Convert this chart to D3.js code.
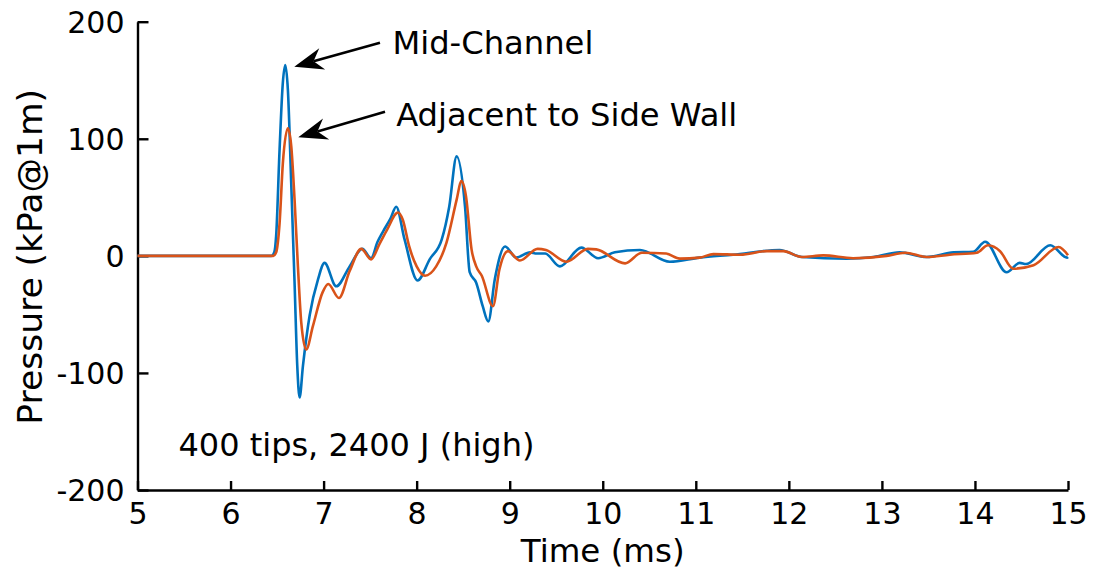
<!DOCTYPE html>
<html>
<head>
<meta charset="utf-8">
<script src="https://cdn.jsdelivr.net/npm/d3@7/dist/d3.min.js"></script>
<style>
  html, body { margin: 0; padding: 0; background: #fff; }
  svg text { font-family: "DejaVu Sans", sans-serif; fill: #000; }
</style>
</head>
<body>
<svg id="chart" width="1094" height="578"></svg>
<script>
// Mid-channel pressure trace: time (ms) and pressure (kPa@1m)
const midTime = [5.0, 5.5, 6.0, 6.44, 6.47, 6.49, 6.527, 6.562, 6.588, 6.616, 6.652, 6.688, 6.717, 6.742, 6.778, 6.85, 6.94, 7.01, 7.136, 7.28, 7.416, 7.51, 7.58, 7.64, 7.72, 7.78, 7.87, 8.01, 8.14, 8.27, 8.35, 8.43, 8.52, 8.57, 8.64, 8.71, 8.77, 8.84, 8.95, 9.07, 9.22, 9.29, 9.38, 9.54, 9.77, 9.95, 10.13, 10.40, 10.72, 11.04, 11.40, 11.90, 12.14, 12.62, 12.91, 13.19, 13.48, 13.77, 13.98, 14.11, 14.34, 14.48, 14.55, 14.81, 14.99, 15.0];
const midValue = [0, 0, 0, 0, 3, 17, 91, 148, 163, 142, 62, -23, -94, -121, -94, -51, -20, -6, -26, -9, 6, -2, 12, 21, 32, 42, 14, -21, -3, 14, 42, 85, 42, -14, -23, -43, -56, -20, 8, -1.5, 3, 2, 2, -9, 7, -2, 3, 5, -5, -1.5, 1, 5, -1, -2.5, -1, 3, -1, 3, 3.4, 12, -14, -6, -7, 9, -1.5, -1];

// Trace adjacent to the side wall
const wallTime = [5.0, 5.5, 6.0, 6.46, 6.49, 6.527, 6.562, 6.616, 6.652, 6.688, 6.724, 6.76, 6.813, 6.885, 6.99, 7.05, 7.165, 7.28, 7.405, 7.51, 7.60, 7.68, 7.80, 7.85, 7.92, 8.0, 8.09, 8.21, 8.32, 8.43, 8.48, 8.53, 8.59, 8.64, 8.70, 8.82, 8.89, 8.98, 9.11, 9.30, 9.39, 9.61, 9.84, 9.93, 10.24, 10.42, 10.68, 10.83, 11.04, 11.19, 11.48, 11.76, 11.94, 12.14, 12.37, 12.69, 13.05, 13.25, 13.48, 13.73, 14.02, 14.14, 14.27, 14.41, 14.63, 14.90, 15.0];
const wallValue = [0, 0, 0, 0, 3, 28, 79, 109, 94, 48, -9, -57, -80, -60, -31, -24, -36, -13, 6, -3, 10, 22, 37, 31, 8, -9, -17, -9, 11, 48, 64, 51, 5.5, -9, -17, -43, -11.5, 4, -4, 6, 5, -5, 6, 5.5, -6.4, 2.7, 2, -2.4, -1.5, 1.5, 1, 4, 4, -1, 0.4, -2, 0, 2.7, -1, 1, 2.7, 9, 4, -11, -8, 7.5, 0.5];

const xTicks = [5, 6, 7, 8, 9, 10, 11, 12, 13, 14, 15];
const yTicks = [-200, -100, 0, 100, 200];

const seriesNames = ["Mid-Channel", "Adjacent to Side Wall"];
const seriesColors = ["#0072BD", "#D95319"];
const caption = "400 tips, 2400 J (high)";

const svg = d3.select("#chart");
const margin = { left: 137.5, right: 26, top: 21.7, bottom: 88 };
const W = 1094, H = 578;

const x = d3.scaleLinear().domain([5, 15]).range([margin.left, W - margin.right]);
const y = d3.scaleLinear().domain([-200, 200]).range([H - margin.bottom, margin.top]);

// Plain hyphen for negative tick labels
const fmt = d => String(d);

// Axes: ticks point inward, MATLAB-like
const xAxis = d3.axisBottom(x).tickValues(xTicks).tickSizeInner(-9).tickSizeOuter(0).tickFormat(fmt);
const yAxis = d3.axisLeft(y).tickValues(yTicks).tickSizeInner(-11).tickSizeOuter(0).tickFormat(fmt);

const gx = svg.append("g").attr("transform", `translate(0,${y(-200)})`).call(xAxis);
const gy = svg.append("g").attr("transform", `translate(${x(5)},0)`).call(yAxis);
[gx, gy].forEach(g => {
  g.select(".domain").attr("stroke", "#000").attr("stroke-width", 2.4);
  g.selectAll(".tick line").attr("stroke", "#000").attr("stroke-width", 2.4);
  g.selectAll(".tick text").attr("font-size", 30).attr("font-family", "DejaVu Sans").attr("fill", "#000");
});
gx.selectAll(".tick text").attr("dy", "0.71em").attr("y", 13);
gy.selectAll(".tick text").attr("x", -13).attr("dy", "0.36em");

// Axis titles
svg.append("text").attr("x", x(10)).attr("y", 562).attr("text-anchor", "middle")
  .attr("font-size", 32.5).text("Time (ms)");
svg.append("text").attr("transform", `translate(41.5,${y(0) + 1}) rotate(-90)`).attr("text-anchor", "middle")
  .attr("font-size", 34.5).text("Pressure (kPa@1m)");

// Traces
const line = d3.line().x(d => x(d[0])).y(d => y(d[1])).curve(d3.curveMonotoneX);
const traces = [d3.zip(midTime, midValue), d3.zip(wallTime, wallValue)];
traces.forEach((pts, i) => {
  svg.append("path").datum(pts).attr("d", line)
    .attr("fill", "none").attr("stroke", seriesColors[i]).attr("stroke-width", 2.6)
    .attr("stroke-linejoin", "round");
});

// Annotations with arrows pointing at the peaks
const notes = [
  { text: seriesNames[0], tail: [7.606, 182.1], tip: [6.685, 161.6], tx: 7.74, ty: 172.5 },
  { text: seriesNames[1], tail: [7.66, 123.1], tip: [6.728, 101.3], tx: 7.78, ty: 111 }
];
function arrowHead(tipX, tipY, tailX, tailY) {
  const L = 29, hw = 11, notch = 20;
  const dx = tailX - tipX, dy = tailY - tipY, len = Math.hypot(dx, dy);
  const ux = dx / len, uy = dy / len, px = -uy, py = ux;
  const p = (a, b) => [tipX + ux * a + px * b, tipY + uy * a + py * b];
  return [[tipX, tipY], p(L, hw), p(notch, 0), p(L, -hw)];
}
notes.forEach(n => {
  const tipX = x(n.tip[0]), tipY = y(n.tip[1]);
  const tailX = x(n.tail[0]), tailY = y(n.tail[1]);
  const head = arrowHead(tipX, tipY, tailX, tailY);
  svg.append("line").attr("x1", tailX).attr("y1", tailY).attr("x2", head[2][0]).attr("y2", head[2][1])
    .attr("stroke", "#000").attr("stroke-width", 2.6);
  svg.append("path").attr("d", "M" + head.map(p => p.join(",")).join("L") + "Z").attr("fill", "#000");
  svg.append("text").attr("x", x(n.tx)).attr("y", y(n.ty)).attr("font-size", 32.2).text(n.text);
});

svg.append("text").attr("x", x(5.44)).attr("y", y(-171)).attr("font-size", 32).text(caption);
</script>
</body>
</html>
